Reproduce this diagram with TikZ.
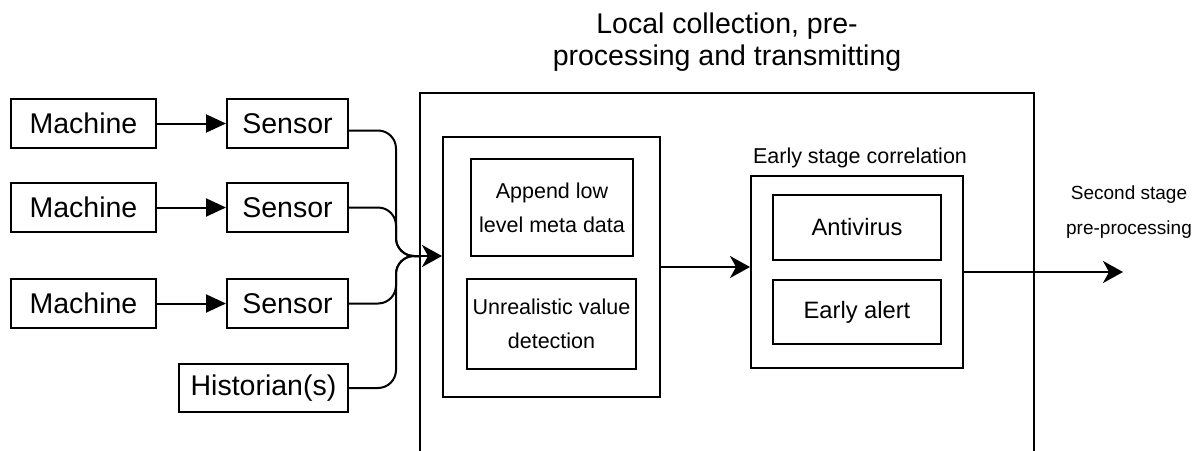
\documentclass[tikz,border=0pt]{standalone}
\usepackage{fontspec}
\setmainfont{Liberation Sans}
\usetikzlibrary{arrows.meta}

\tikzset{
  box/.style={draw, line width=2pt, inner sep=0pt, align=center},
  bigtxt/.style={font=\fontsize{28.5}{32}\selectfont},
  midtxt/.style={font=\fontsize{23.7}{30}\selectfont},
  smalltxt/.style={font=\fontsize{21.5}{34}\selectfont},
  tinytxt/.style={font=\fontsize{19}{35}\selectfont},
  feed/.style={line width=2pt, -{Triangle[length=20pt,width=18pt]}},
  flow/.style={line width=2pt, -{Stealth[length=20pt,width=22pt,inset=6pt]}},
  merge/.style={line width=2pt, rounded corners=18pt},
}

\begin{document}
\begin{tikzpicture}[x=1pt, y=-1pt]
\useasboundingbox[fill=white] (0,0) rectangle (1201,450);

% sources
\node[box, bigtxt, minimum width=145pt, minimum height=49pt] (m1) at (83.5,123.5) {Machine};
\node[box, bigtxt, minimum width=145pt, minimum height=49pt] (m2) at (83.5,207.5) {Machine};
\node[box, bigtxt, minimum width=145pt, minimum height=49pt] (m3) at (83.5,303.5) {Machine};
\node[box, bigtxt, minimum width=121pt, minimum height=49pt] (s1) at (287.5,123.5) {Sensor};
\node[box, bigtxt, minimum width=121pt, minimum height=49pt] (s2) at (287.5,207.5) {Sensor};
\node[box, bigtxt, minimum width=121pt, minimum height=49pt] (s3) at (287.5,303.5) {Sensor};
\node[box, bigtxt, minimum width=169pt, minimum height=48pt] (hist) at (263.5,388) {Historian(s)};

% local collection frame (runs past the lower edge)
\node[box, minimum width=614pt, minimum height=400pt, anchor=north west] (outer) at (419,92) {};
\node[bigtxt, align=center] (title) at (727,42) {Local collection, pre-\\processing and transmitting};

% pre-processing group
\node[box, minimum width=217pt, minimum height=260pt] (pre) at (551.5,267) {};
\node[box, smalltxt, minimum width=162pt, minimum height=97pt] (meta) at (552,207.5) {Append low\\level meta data};
\node[box, smalltxt, minimum width=169pt, minimum height=90pt] (unreal) at (551.5,324) {Unrealistic value\\detection};

% early stage correlation group
\node[box, minimum width=212pt, minimum height=192pt] (early) at (857,272) {};
\node[smalltxt] (earlylbl) at (860,158) {Early stage correlation};
\node[box, midtxt, minimum width=168pt, minimum height=65pt] (av) at (857,227.5) {Antivirus};
\node[box, midtxt, minimum width=168pt, minimum height=64pt] (alert) at (857,312) {Early alert};

% second stage
\node[tinytxt, align=center] (second) at (1129,212) {Second stage\\pre-processing};
\coordinate (outend) at (1123,272);

% machine to sensor
\draw[feed] (m1) -- (s1);
\draw[feed] (m2) -- (s2);
\draw[feed] (m3) -- (s3);

% sensors and historian merge into one input
\coordinate (join) at (396,256);
\coordinate (mid) at (420,256);
\draw[merge] ([yshift=-7pt]s1.east) -| (join) -- (mid);
\draw[merge] (s2.east) -| (join) -- (mid);
\draw[merge] (s3.east) -| (join) -- (mid);
\draw[merge] (hist.east) -| (join) -- (mid);
\draw[flow] (mid) -- ([yshift=11pt]pre.west);

% pipeline
\draw[flow] (pre.east) -- ([yshift=5pt]early.west);
\draw[flow] (early.east) -- (outend);
\end{tikzpicture}
\end{document}
